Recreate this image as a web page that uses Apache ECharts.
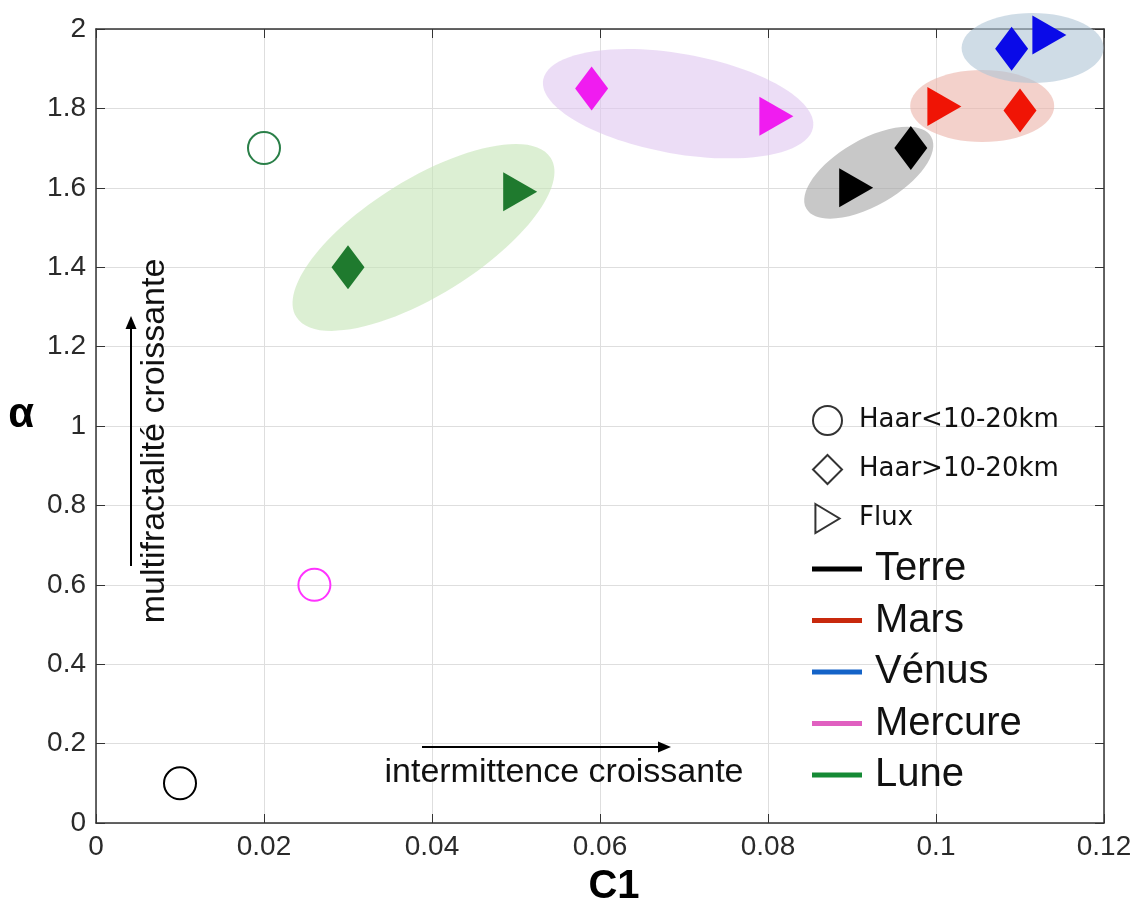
<!DOCTYPE html>
<html>
<head>
<meta charset="utf-8">
<script src="https://cdn.jsdelivr.net/npm/echarts@6/dist/echarts.min.js"></script>
<style>html,body{margin:0;padding:0;background:#fff}#c{width:1142px;height:912px}</style>
</head>
<body>
<div id="c"></div>
<script>
// ---- data ----
const planets = ['Terre', 'Mars', 'Vénus', 'Mercure', 'Lune'];
const markerTypes = ['Haar<10-20km', 'Haar>10-20km', 'Flux'];
// [C1, alpha] per planet; null = not measured
const haarSmall = [[0.010, 0.10], null, null, [0.026, 0.60], [0.020, 1.70]];
const haarLarge = [[0.097, 1.70], [0.110, 1.795], [0.109, 1.95], [0.059, 1.85], [0.030, 1.40]];
const flux = [[0.0905, 1.60], [0.101, 1.805], [0.1135, 1.985], [0.081, 1.78], [0.0505, 1.59]];
// group ellipse centres [C1, alpha]
const groupCentres = [[0.0920, 1.638], [0.1055, 1.806], [0.1115, 1.952], [0.0693, 1.812], [0.0390, 1.475]];
const xTicks = { min: 0, max: 0.12, interval: 0.02 };
const yTicks = { min: 0, max: 2, interval: 0.2 };

// ---- styles ----
const markerColors = ['#000000', '#f01405', '#0a0ae8', '#f01cf0', '#1f7a2e'];
const circleColors = ['#000000', '#f01405', '#0a0ae8', '#ff33ff', '#2a7f48'];
const legendColors = ['#000000', '#c8290d', '#1463c8', '#e060c0', '#158a35'];
const ellipseStyle = [
  { a: 72, b: 33, angle: 30, fill: 'rgba(163,163,163,0.6)' },
  { a: 72, b: 36, angle: 0, fill: 'rgba(235,178,168,0.6)' },
  { a: 71, b: 35, angle: 0, fill: 'rgba(175,196,213,0.6)' },
  { a: 137, b: 50, angle: -10, fill: 'rgba(223,199,240,0.6)' },
  { a: 150, b: 58, angle: 32, fill: 'rgba(196,228,182,0.6)' }
];
const FONT = 'Liberation Sans';
const triPath = 'path://M0,0L10,6L0,12Z';

const series = [];
series.push({
  type: 'custom', name: 'groups', xAxisIndex: 0, yAxisIndex: 0, z: 1, silent: true,
  data: groupCentres,
  renderItem: function (params, api) {
    const p = api.coord([api.value(0), api.value(1)]);
    const s = ellipseStyle[params.dataIndex];
    return {
      type: 'ellipse', x: p[0], y: p[1], rotation: s.angle * Math.PI / 180,
      shape: { cx: 0, cy: 0, rx: s.a, ry: s.b },
      style: { fill: s.fill }
    };
  }
});
planets.forEach(function (name, i) {
  const data = [];
  if (haarSmall[i]) data.push({ value: haarSmall[i], symbol: 'circle', symbolSize: 32,
    itemStyle: { color: 'rgba(255,255,255,0)', borderColor: circleColors[i], borderWidth: 2, opacity: 1 } });
  data.push({ value: haarLarge[i], symbol: 'diamond', symbolSize: [33, 44],
    itemStyle: { color: markerColors[i], opacity: 1 } });
  data.push({ value: flux[i], symbol: 'triangle', symbolSize: [39, 34], symbolRotate: -90,
    itemStyle: { color: markerColors[i], opacity: 1 } });
  series.push({ type: 'scatter', name: name, z: 3, data: data, itemStyle: { color: legendColors[i], opacity: 1 } });
});
const markerIcons = ['circle', 'diamond', triPath];
markerTypes.forEach(function (name) {
  series.push({ type: 'scatter', name: name, data: [], itemStyle: { color: '#fff', borderColor: '#000', borderWidth: 2 } });
});

const axisLineStyle = { color: '#333', width: 1.5 };
const option = {
  animation: false,
  backgroundColor: '#fff',
  grid: { left: 96, right: 38, top: 29, bottom: 87, containLabel: false },
  xAxis: [{
    type: 'value', min: xTicks.min, max: xTicks.max, interval: xTicks.interval,
    name: 'C1', nameLocation: 'middle', nameGap: 44,
    nameTextStyle: { fontFamily: FONT, fontWeight: 'bold', fontSize: 40, color: '#000', padding: [0, 0, 0, 28] },
    axisLine: { show: true, onZero: false, lineStyle: axisLineStyle },
    axisTick: { show: true, inside: true, length: 9, lineStyle: { color: '#333' } },
    axisLabel: { fontFamily: FONT, fontSize: 28, color: '#2a2a2a', margin: 10 },
    splitLine: { show: true, lineStyle: { color: '#dedede', width: 1 } }
  }, {
    type: 'value', position: 'top', min: xTicks.min, max: xTicks.max, interval: xTicks.interval,
    axisLine: { show: true, onZero: false, lineStyle: axisLineStyle },
    axisTick: { show: true, inside: true, length: 9, lineStyle: { color: '#333' } },
    axisLabel: { show: false }, splitLine: { show: false }
  }],
  yAxis: [{
    type: 'value', min: yTicks.min, max: yTicks.max, interval: yTicks.interval,
    name: 'α', nameLocation: 'middle', nameGap: 62, nameRotate: 0,
    nameTextStyle: { fontFamily: FONT, fontWeight: 'bold', fontSize: 42, color: '#000', verticalAlign: 'bottom', lineHeight: 22 },
    axisLine: { show: true, onZero: false, lineStyle: axisLineStyle },
    axisTick: { show: true, inside: true, length: 9, lineStyle: { color: '#333' } },
    axisLabel: { fontFamily: FONT, fontSize: 28, color: '#2a2a2a', margin: 10 },
    splitLine: { show: true, lineStyle: { color: '#dedede', width: 1 } }
  }, {
    type: 'value', position: 'right', min: yTicks.min, max: yTicks.max, interval: yTicks.interval,
    axisLine: { show: true, onZero: false, lineStyle: axisLineStyle },
    axisTick: { show: true, inside: true, length: 9, lineStyle: { color: '#333' } },
    axisLabel: { show: false }, splitLine: { show: false }
  }],
  legend: [{
    orient: 'vertical', left: 807, top: 400, itemWidth: 29, itemHeight: 29, itemGap: 18,
    selectedMode: false,
    textStyle: { fontFamily: 'DejaVu Sans', fontSize: 26, color: '#111', lineHeight: 30, padding: [0, 0, 0, 12] },
    data: markerTypes.map(function (n, i) {
      return { name: n, icon: markerIcons[i], itemStyle: { color: '#fff', borderColor: '#000', borderWidth: 2 } };
    })
  }, {
    orient: 'vertical', left: 807, top: 543, itemWidth: 50, itemHeight: 5, itemGap: 9.5,
    selectedMode: false,
    textStyle: { fontFamily: FONT, fontSize: 40, color: '#111', lineHeight: 42, padding: [0, 0, 0, 8] },
    data: planets.map(function (n, i) {
      return { name: n, icon: 'rect', itemStyle: { color: legendColors[i] } };
    })
  }],
  graphic: [
    { type: 'line', shape: { x1: 131, y1: 566, x2: 131, y2: 328 }, style: { stroke: '#000', lineWidth: 2 }, z: 10 },
    { type: 'polygon', shape: { points: [[131, 316], [125.5, 329], [136.5, 329]] }, style: { fill: '#000' }, z: 10 },
    { type: 'text', x: 155, y: 441, rotation: Math.PI / 2, z: 10,
      style: { text: 'multifractalité croissante', fontFamily: FONT, fontSize: 34, fill: '#111', align: 'center', verticalAlign: 'middle' } },
    { type: 'line', shape: { x1: 422, y1: 747, x2: 660, y2: 747 }, style: { stroke: '#000', lineWidth: 2 }, z: 10 },
    { type: 'polygon', shape: { points: [[671, 747], [658, 741.5], [658, 752.5]] }, style: { fill: '#000' }, z: 10 },
    { type: 'text', x: 564, y: 773, z: 10,
      style: { text: 'intermittence croissante', fontFamily: FONT, fontSize: 34, fill: '#111', align: 'center', verticalAlign: 'middle' } }
  ],
  series: series
};
const chart = echarts.init(document.getElementById('c'), null, { renderer: 'canvas' });
chart.setOption(option);
</script>
</body>
</html>
